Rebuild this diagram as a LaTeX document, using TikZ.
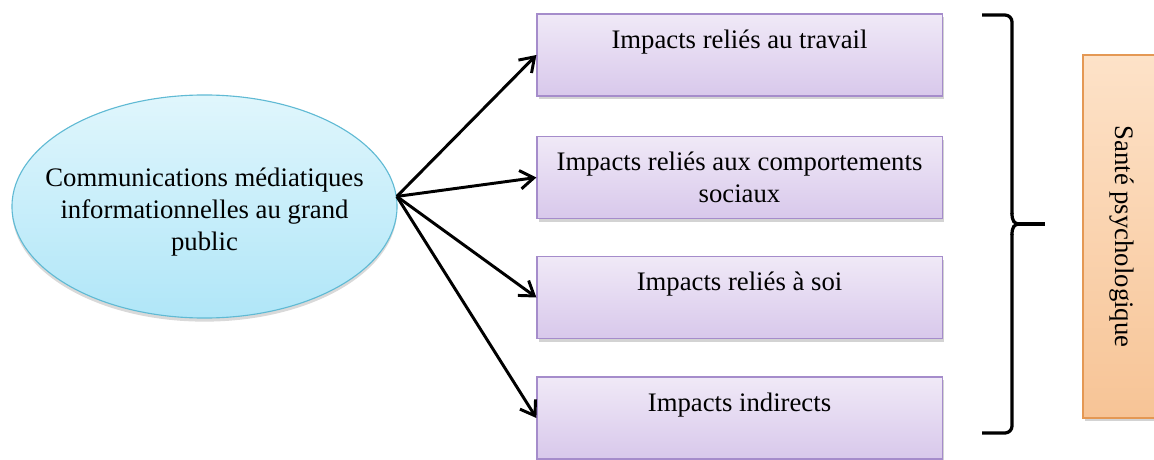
\documentclass[tikz,border=0pt]{standalone}
\usepackage{fontspec}
\setmainfont{Liberation Serif}
\usetikzlibrary{shapes.geometric, arrows.meta, shadows}
\definecolor{cSkyTop}{RGB}{224,246,252}
\definecolor{cSkyBot}{RGB}{176,230,248}
\definecolor{cSkyLine}{RGB}{96,186,212}
\definecolor{cLilacTop}{RGB}{240,233,247}
\definecolor{cLilacBot}{RGB}{216,200,235}
\definecolor{cLilacLine}{RGB}{165,140,203}
\definecolor{cPeachTop}{RGB}{253,226,200}
\definecolor{cPeachBot}{RGB}{247,196,150}
\definecolor{cPeachLine}{RGB}{228,152,84}
\newcommand{\boxtext}[1]{\parbox[c][1.45cm][t]{9.6cm}{\centering\strut #1}}
\tikzset{
	bigfont/.style={font=\fontsize{19}{22.5}\selectfont},
	softshadow/.style={drop shadow={opacity=0.35, shadow xshift=0.6mm, shadow yshift=-0.8mm}},
	source/.style ={ellipse, draw=cSkyLine, thick, top color=cSkyTop, bottom color=cSkyBot, minimum width=9.625cm, minimum height=5.575cm, inner sep=0pt, drop shadow={opacity=0.3, shadow xshift=0pt, shadow yshift=-0.9mm}},
	impact/.style ={rectangle, draw=cLilacLine, thick, top color=cLilacTop, bottom color=cLilacBot, minimum width=10.125cm, minimum height=2.05cm, inner xsep=0.25cm, inner ysep=0.3cm, bigfont, softshadow},
	outcome/.style={rectangle, draw=cPeachLine, thick, top color=cPeachTop, bottom color=cPeachBot, minimum width=1.95cm, minimum height=9.075cm, inner sep=0pt, bigfont, softshadow},
	flowarrow/.style={-{Straight Barb[length=3.4mm, width=4.6mm]}, line width=2.1pt},
	bracket/.style={line width=2.3pt, rounded corners=5pt},
}
\begin{document}
\begin{tikzpicture}[x=0.025cm, y=-0.025cm]
	\useasboundingbox (0,0) rectangle (1154,459);
	% source and the four impacts
	\node[source] (comm) at (204.5,206.5) {};
	\node[bigfont, align=center] (commtext) at (204.5,212) {Communications médiatiques\\informationnelles au grand\\public};
	\node[impact] (imp1) at (739.5,55) {\boxtext{Impacts reliés au travail}};
	\node[impact] (imp2) at (739.5,177.5) {\boxtext{Impacts reliés aux comportements\\sociaux}};
	\node[impact] (imp3) at (739.5,297.5) {\boxtext{Impacts reliés à soi}};
	\node[impact] (imp4) at (739.5,418) {\boxtext{Impacts indirects}};
	\coordinate (src) at (comm.3);
	\foreach \i in {1,...,4} \draw[flowarrow] (src) -- (imp\i.west);
	% brace and outcome
	\draw[bracket] (982,15) -- (1012,15) -- (1012,214);
	\draw[line width=2.3pt] (1012,213) .. controls (1012,221) and (1014,224) .. (1020,224) .. controls (1014,224) and (1012,227) .. (1012,235);
	\draw[bracket] (1012,234) -- (1012,433) -- (982,433);
	\draw[line width=2.3pt] (1017,224) -- (1045,224);
	\node[outcome] (sante) at (1122,236.5) {\rotatebox{-90}{Santé psychologique}};
\end{tikzpicture}
\end{document}
